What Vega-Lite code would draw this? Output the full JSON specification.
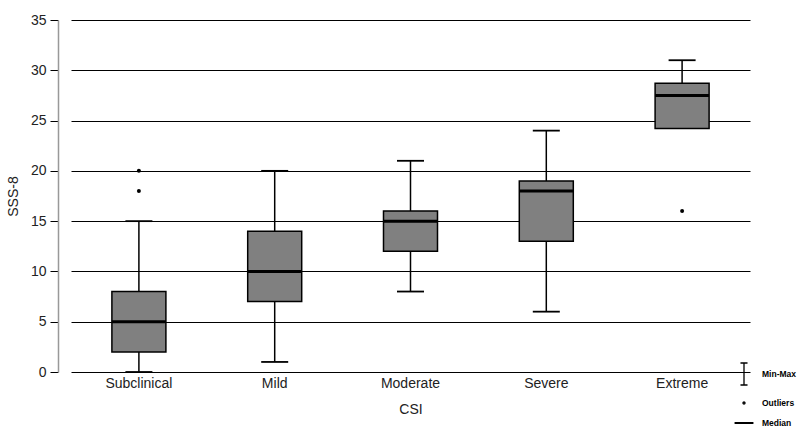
{
  "$schema": "https://vega.github.io/schema/vega-lite/v6.json",
  "width": 665,
  "height": 352,
  "autosize": {"type": "none"},
  "padding": {"left": 58, "top": 20, "right": 77, "bottom": 74},
  "background": "white",
  "config": {
    "view": {"stroke": null},
    "font": "Liberation Sans"
  },
  "datasets": {
    "boxes": [
      {"CSI": "Subclinical", "min": 0, "q1": 2, "median": 5, "q3": 8, "max": 15},
      {"CSI": "Mild", "min": 1, "q1": 7, "median": 10, "q3": 14, "max": 20},
      {"CSI": "Moderate", "min": 8, "q1": 12, "median": 15, "q3": 16, "max": 21},
      {"CSI": "Severe", "min": 6, "q1": 13, "median": 18, "q3": 19, "max": 24},
      {"CSI": "Extreme", "min": 24.2, "q1": 24.2, "median": 27.5, "q3": 28.7, "max": 31}
    ],
    "outliers": [
      {"CSI": "Subclinical", "value": 18},
      {"CSI": "Subclinical", "value": 20},
      {"CSI": "Extreme", "value": 16}
    ],
    "legend": [
      {"item": "Min-Max"},
      {"item": "Outliers"},
      {"item": "Median"}
    ]
  },
  "layer": [
    {
      "data": {"name": "boxes"},
      "mark": {"type": "rule", "color": "black", "strokeWidth": 1.5},
      "encoding": {
        "x": {
          "field": "CSI", "type": "nominal",
          "sort": ["Subclinical", "Mild", "Moderate", "Severe", "Extreme"],
          "scale": {"range": [13, 692], "paddingInner": 0, "paddingOuter": 0},
          "axis": {
            "title": "CSI", "titleFontSize": 14, "titleFontWeight": "normal", "titleColor": "#222",
            "titlePadding": 12, "labelFontSize": 14, "labelColor": "#222", "labelAngle": 0,
            "labelPadding": 4, "ticks": false, "domain": false
          }
        },
        "y": {
          "field": "min", "type": "quantitative",
          "scale": {"domain": [0, 35], "nice": false},
          "axis": {
            "title": "SSS-8", "titleFontSize": 14, "titleFontWeight": "normal", "titleColor": "#222",
            "titlePadding": 10, "values": [0, 5, 10, 15, 20, 25, 30, 35],
            "labelFontSize": 14, "labelColor": "#222", "labelPadding": 4,
            "tickSize": 8, "tickColor": "black", "tickWidth": 1,
            "grid": true, "gridColor": "black", "gridWidth": 1, "gridOpacity": 1,
            "domainColor": "#999", "domainWidth": 1.5
          }
        },
        "y2": {"field": "max"}
      }
    },
    {
      "data": {"name": "boxes"},
      "mark": {"type": "bar", "size": 54, "fill": "#808080", "stroke": "black", "strokeWidth": 1.5},
      "encoding": {
        "x": {"field": "CSI", "type": "nominal", "sort": ["Subclinical", "Mild", "Moderate", "Severe", "Extreme"]},
        "y": {"field": "q1", "type": "quantitative"},
        "y2": {"field": "q3"}
      }
    },
    {
      "data": {"name": "boxes"},
      "mark": {"type": "tick", "size": 54, "thickness": 3, "color": "black", "opacity": 1},
      "encoding": {
        "x": {"field": "CSI", "type": "nominal", "sort": ["Subclinical", "Mild", "Moderate", "Severe", "Extreme"]},
        "y": {"field": "median", "type": "quantitative"}
      }
    },
    {
      "data": {"name": "boxes"},
      "mark": {"type": "tick", "size": 27, "thickness": 1.8, "color": "black", "opacity": 1},
      "encoding": {
        "x": {"field": "CSI", "type": "nominal", "sort": ["Subclinical", "Mild", "Moderate", "Severe", "Extreme"]},
        "y": {"field": "max", "type": "quantitative"}
      }
    },
    {
      "data": {"name": "boxes"},
      "transform": [{"filter": "datum.CSI != 'Extreme'"}],
      "mark": {"type": "tick", "size": 27, "thickness": 1.8, "color": "black", "opacity": 1},
      "encoding": {
        "x": {"field": "CSI", "type": "nominal", "sort": ["Subclinical", "Mild", "Moderate", "Severe", "Extreme"]},
        "y": {"field": "min", "type": "quantitative"}
      }
    },
    {
      "data": {"name": "outliers"},
      "mark": {"type": "point", "filled": true, "color": "black", "size": 16, "opacity": 1},
      "encoding": {
        "x": {"field": "CSI", "type": "nominal", "sort": ["Subclinical", "Mild", "Moderate", "Severe", "Extreme"]},
        "y": {"field": "value", "type": "quantitative"}
      }
    },
    {
      "data": {"name": "legend"},
      "mark": {"type": "point", "opacity": 0},
      "encoding": {
        "shape": {
          "field": "item", "type": "nominal",
          "scale": {
            "domain": ["Min-Max", "Outliers", "Median"],
            "range": [
              "M-0.32,-1H0.32M0,-1V1M-0.32,1H0.32",
              "M-0.09,0A0.09,0.09 0 1,0 0.09,0A0.09,0.09 0 1,0 -0.09,0Z",
              "M-0.8,-0.03H0.8V0.03H-0.8Z"
            ]
          },
          "legend": {
            "title": null, "orient": "none", "legendX": 674, "legendY": 342,
            "padding": 0, "symbolSize": 484, "symbolStrokeColor": "black", "symbolFillColor": "black",
            "symbolStrokeWidth": 1.3, "symbolOpacity": 1, "rowPadding": 3,
            "labelFont": "Liberation Sans", "labelFontWeight": "bold", "labelFontSize": 8.5,
            "labelColor": "black", "labelOffset": 6
          }
        }
      }
    }
  ]
}
